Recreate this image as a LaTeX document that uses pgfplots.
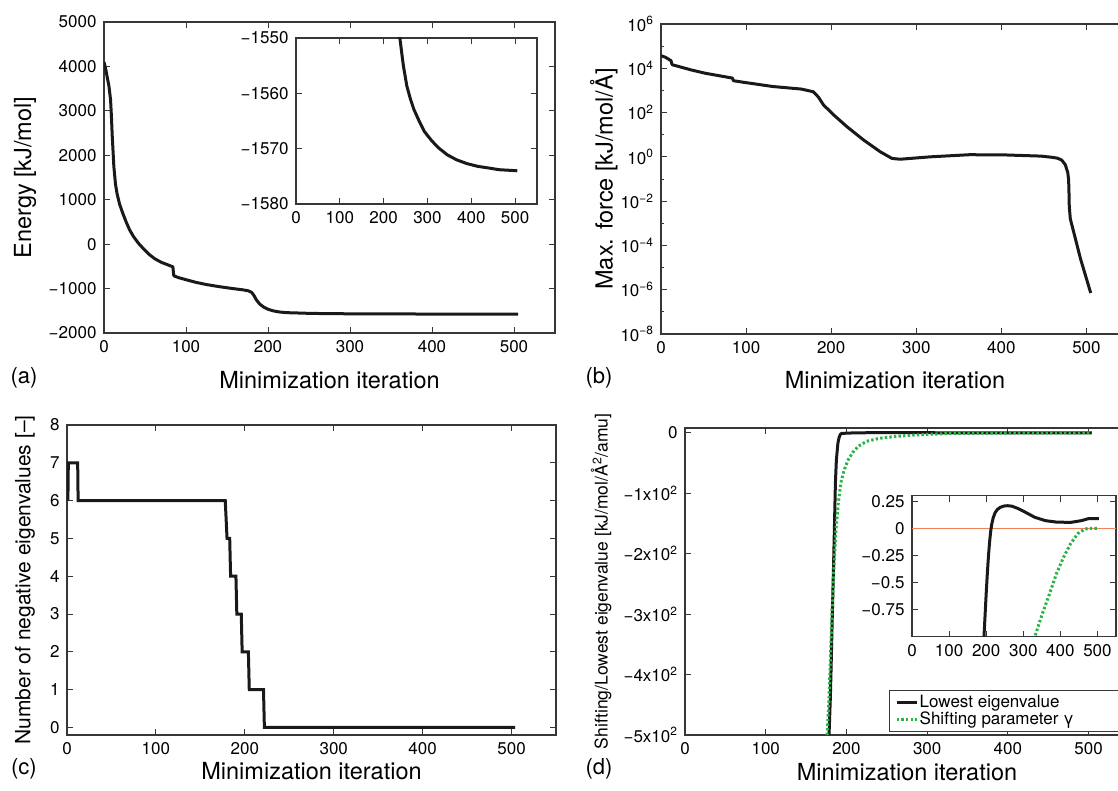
\documentclass[border=0pt]{standalone}
\usepackage{fontspec}
\setmainfont{TeX Gyre Heros}
\usepackage{pgfplots}
\usepackage{pgfplotstable}
\pgfplotsset{compat=1.18}

\definecolor{curve}{RGB}{25,25,25}
\definecolor{gammagreen}{RGB}{40,180,70}
\definecolor{zeroline}{RGB}{240,130,90}
\definecolor{frame}{RGB}{55,55,55}

\pgfplotsset{
  panel/.style={
    scale only axis, anchor=south west,
    axis line style={frame, line width=1.1pt},
    tick style={frame, line width=0.9pt},
    major tick length=6pt, minor tick length=3pt,
    tick label style={font=\fontsize{17}{19}\selectfont},
    xticklabel style={yshift=-4pt},
    yticklabel style={xshift=-4pt},
    label style={font=\fontsize{23.5}{27}\selectfont},
    /pgf/number format/assume math mode=true,
    scaled ticks=false,
    xmin=0, xmax=550, xtick={0,100,...,500},
    xticklabels={0,100,200,300,400,500},
  },
  blackcurve/.style={color=curve, line width=3pt, line join=round, no markers},
  gammacurve/.style={color=gammagreen, line width=3pt, dash pattern=on 2.4pt off 2.2pt, no markers},
}

\begin{document}

\pgfplotstableread{
x y
0 4100
2 3950
4 3750
6 3560
8 3250
9 2900
10 2450
11 2100
12 1750
14 1350
16 1130
19 900
23 690
27 500
31 330
36 170
42 20
48 -100
55 -230
62 -330
70 -410
77 -460
84 -510
85 -700
86 -720
92 -760
100 -800
112 -860
125 -910
140 -955
155 -995
168 -1025
176 -1050
180 -1085
183 -1160
186 -1260
190 -1350
195 -1420
200 -1465
206 -1500
213 -1525
220 -1538
228 -1546
237 -1550
245 -1555
253 -1558.7
261 -1561
269 -1562.9
281 -1565
293 -1566.9
310 -1568.6
326 -1569.9
345 -1571.1
366 -1572.0
390 -1572.7
415 -1573.2
440 -1573.5
463 -1573.8
485 -1573.9
505 -1574
}\energy

\pgfplotstableread{
x y
0 3.7e4
5.5 3.1e4
11.8 2.2e4
13 1.45e4
18 1.29e4
35 8.5e3
51.7 6.0e3
84 3.6e3
85 2.75e3
98 2.3e3
131.5 1.5e3
165 1.15e3
179 8.7e2
185 5.0e2
191 2.2e2
203 78
218.5 23
238 5.8
257.6 1.7
271.4 0.85
281 0.78
316 1.0
362.6 1.25
404.6 1.22
446.6 1.08
460 0.95
466 0.87
471 0.71
475 0.45
478 0.2
479 0.093
479.4 0.032
479.8 5.8e-3
481 1.6e-3
483.3 7.2e-4
493 2.5e-5
505 7.1e-7
}\force

\pgfplotstableread{
x y
1 6
1.5 7
12 7
12.5 6
178 6
180 5
183 5
184 4
190 4
191 3
196 3
197 2
204 2
205 1
221 1
222 0
504 0
}\negeig

\pgfplotstableread{
x y
178.4 -500
180 -440
181 -387
182.5 -300
184 -221
185.2 -150
186.3 -83
187.5 -45
189.4 -17
191 -7
192.5 -2.5
194 -1.0
197 -0.80
200 -0.60
203 -0.42
206 -0.26
209 -0.13
212 -0.03
215 0.04
219 0.10
224 0.145
230 0.175
238 0.195
248 0.207
258 0.21
270 0.205
285 0.185
300 0.16
331 0.103
360 0.072
389 0.059
427.6 0.056
456.6 0.072
476 0.091
504 0.091
}\lowest

\pgfplotstableread{
x y
176 -500
178 -450
180 -380
182 -300
184.5 -220
187 -160
190 -115
193 -83
197 -62
202 -45
208 -32
215 -22
225 -14
241 -9
260 -6
285 -3.5
310 -2
331 -1.0
350 -0.80
370 -0.61
389 -0.42
408 -0.27
427.6 -0.14
447 -0.047
466 -0.005
476 0
504 0
}\shift

\begin{tikzpicture}
\useasboundingbox (0pt,0pt) rectangle (1118pt,790pt);

% (a) energy
\begin{axis}[panel, at={(104pt,457pt)}, width=451pt, height=311pt,
    ymin=-2000, ymax=5000, ytick={-2000,-1000,...,5000},
    yticklabels={−2000,−1000,0,1000,2000,3000,4000,5000},
    ylabel={Energy [kJ/mol]}, xlabel={Minimization iteration},
    ylabel style={at={(axis description cs:-0.175,0.5)}, anchor=center},
    xlabel style={at={(axis description cs:0.5,-0.151)}, anchor=center}]
\addplot[blackcurve] table {\energy};
\end{axis}
\begin{axis}[panel, at={(296pt,586pt)}, width=241pt, height=166pt,
    ymin=-1580, ymax=-1550, ytick={-1580,-1570,-1560,-1550},
    yticklabels={−1580,−1570,−1560,−1550},
    axis background/.style={fill=white}]
\addplot[blackcurve, restrict y to domain=-1600:-1400] table {\energy};
\end{axis}

% (b) max force
\begin{axis}[panel, at={(661pt,456pt)}, width=468pt, height=310pt,
    ymode=log, ymin=1e-8, ymax=1e6,
    ytick={1e-8,1e-6,1e-4,1e-2,1,1e2,1e4,1e6},
    minor ytick={1e-7,1e-5,1e-3,1e-1,1e1,1e3,1e5},
    yticklabels={10\textsuperscript{−8},10\textsuperscript{−6},10\textsuperscript{−4},10\textsuperscript{−2},10\textsuperscript{0},10\textsuperscript{2},10\textsuperscript{4},10\textsuperscript{6}},
    ylabel={Max. force [kJ/mol/Å]}, xlabel={Minimization iteration},
    ylabel style={at={(axis description cs:-0.122,0.5)}, anchor=center},
    xlabel style={at={(axis description cs:0.5,-0.148)}, anchor=center}]
\addplot[blackcurve] table {\force};
\end{axis}

% (c) negative eigenvalues
\begin{axis}[panel, at={(67pt,55pt)}, width=489pt, height=310pt,
    ymin=-0.2, ymax=8, ytick={0,1,...,8},
    ylabel={Number of negative eigenvalues [–]}, xlabel={Minimization iteration},
    ylabel style={at={(axis description cs:-0.086,0.5)}, anchor=center, font=\fontsize{21}{24}\selectfont},
    xlabel style={at={(axis description cs:0.5,-0.118)}, anchor=center}]
\addplot[blackcurve, line join=miter] table {\negeig};
\end{axis}

% (d) lowest eigenvalue and shift
\begin{axis}[panel, at={(685pt,55pt)}, width=444pt, height=307pt,
    ymin=-500, ymax=8, ytick={-500,-400,...,0},
    yticklabels={−5x10\textsuperscript{2},−4x10\textsuperscript{2},−3x10\textsuperscript{2},−2x10\textsuperscript{2},−1x10\textsuperscript{2},0},
    ylabel={Shifting/Lowest eigenvalue [kJ/mol/Å\textsuperscript{2}/amu]}, xlabel={Minimization iteration},
    ylabel style={at={(axis description cs:-0.189,0.5)}, anchor=center, font=\fontsize{17.5}{20}\selectfont},
    xlabel style={at={(axis description cs:0.5,-0.12)}, anchor=center},
    legend style={at={(axis description cs:0.459,0.012)}, anchor=south west,
      draw=frame, line width=0.8pt, fill=white,
      font=\fontsize{17}{19}\selectfont, nodes={inner sep=1.5pt},
      inner xsep=6pt, inner ysep=3pt, cells={anchor=west}},
    legend image code/.code={\draw[#1] (0pt,0pt) -- (20pt,0pt);}]
\addplot[blackcurve] table {\lowest};
\addlegendentry{Lowest eigenvalue}
\addplot[gammacurve] table {\shift};
\addlegendentry{Shifting parameter γ\hspace*{40pt}}
\end{axis}
\begin{axis}[panel, at={(912pt,153pt)}, width=204pt, height=141pt,
    ymin=-1, ymax=0.3, ytick={-0.75,-0.5,-0.25,0,0.25},
    yticklabels={−0.75,−0.5,−0.25,0,0.25},
    axis background/.style={fill=white}]
\addplot[zeroline, line width=1.2pt] coordinates {(0,0) (550,0)};
\addplot[blackcurve, restrict y to domain=-50:1] table {\lowest};
\addplot[gammacurve, restrict y to domain=-50:1] table {\shift};
\end{axis}

\node[font=\fontsize{22}{24}\selectfont] at (24pt,412pt) {(a)};
\node[font=\fontsize{22}{24}\selectfont] at (599pt,412pt) {(b)};
\node[font=\fontsize{22}{24}\selectfont] at (24pt,21pt) {(c)};
\node[font=\fontsize{22}{24}\selectfont] at (599pt,21pt) {(d)};
\end{tikzpicture}
\end{document}
